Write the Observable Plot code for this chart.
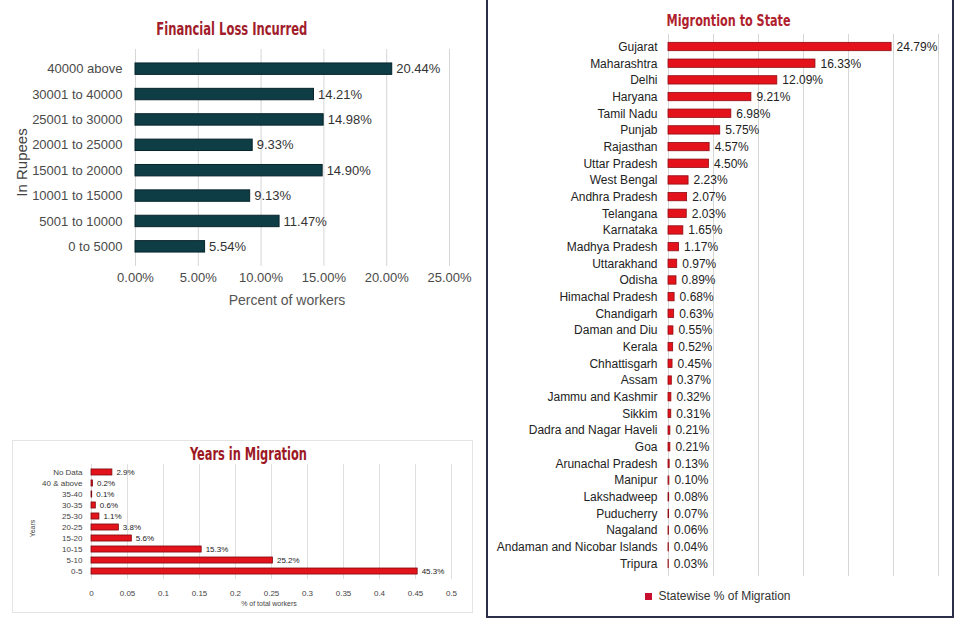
<!DOCTYPE html>
<html>
<head>
<meta charset="utf-8">
<script src="https://cdn.jsdelivr.net/npm/d3@7"></script>
<script src="https://cdn.jsdelivr.net/npm/@observablehq/plot@0.6"></script>
<style>
  html, body { margin: 0; padding: 0; background: #fff; }
  #root { position: relative; width: 960px; height: 630px; overflow: hidden; font-family: "Liberation Sans", Arial, sans-serif; }
  .title { position: absolute; font-family: "Liberation Sans Narrow", "DejaVu Sans Condensed", sans-serif; font-weight: bold; white-space: nowrap; transform-origin: center center; line-height: 1; }
  .lbl { position: absolute; white-space: nowrap; line-height: 1; font-family: "Liberation Sans", Arial, sans-serif; }
  #legend, #legend * { font-family: "Liberation Sans", Arial, sans-serif !important; font-size: 12px !important; color: #333 !important; }
</style>
</head>
<body>
<div id="root"></div>
<script>
// ---------- DATA ----------
const lossLabels = ["40000 above", "30001 to 40000", "25001 to 30000", "20001 to 25000", "15001 to 20000", "10001 to 15000", "5001 to 10000", "0 to 5000"];
const lossValues = [20.44, 14.21, 14.98, 9.33, 14.90, 9.13, 11.47, 5.54];
const lossTicks = [0, 5, 10, 15, 20, 25];

const yearLabels = ["No Data", "40 & above", "35-40", "30-35", "25-30", "20-25", "15-20", "10-15", "5-10", "0-5"];
const yearValues = [0.029, 0.002, 0.001, 0.006, 0.011, 0.038, 0.056, 0.153, 0.252, 0.453];
const yearTicks = [0, 0.05, 0.1, 0.15, 0.2, 0.25, 0.3, 0.35, 0.4, 0.45, 0.5];

const stateNames = ["Gujarat", "Maharashtra", "Delhi", "Haryana", "Tamil Nadu", "Punjab", "Rajasthan", "Uttar Pradesh", "West Bengal", "Andhra Pradesh", "Telangana", "Karnataka", "Madhya Pradesh", "Uttarakhand", "Odisha", "Himachal Pradesh", "Chandigarh", "Daman and Diu", "Kerala", "Chhattisgarh", "Assam", "Jammu and Kashmir", "Sikkim", "Dadra and Nagar Haveli", "Goa", "Arunachal Pradesh", "Manipur", "Lakshadweep", "Puducherry", "Nagaland", "Andaman and Nicobar Islands", "Tripura"];
const stateValues = [24.79, 16.33, 12.09, 9.21, 6.98, 5.75, 4.57, 4.50, 2.23, 2.07, 2.03, 1.65, 1.17, 0.97, 0.89, 0.68, 0.63, 0.55, 0.52, 0.45, 0.37, 0.32, 0.31, 0.21, 0.21, 0.13, 0.10, 0.08, 0.07, 0.06, 0.04, 0.03];
const stateTicks = [0, 5, 10, 15, 20, 25, 30];
const stateSeries = "Statewise % of Migration";

// ---------- LAYOUT HELPERS ----------
const root = document.getElementById("root");
function place(el, left, top) {
  el.style.position = "absolute";
  el.style.left = left + "px";
  el.style.top = top + "px";
  root.appendChild(el);
  return el;
}
function title(text, cx, cy, targetW, size, color) {
  const d = document.createElement("div");
  d.className = "title";
  d.textContent = text;
  d.style.fontSize = size + "px";
  d.style.color = color;
  root.appendChild(d);
  const r = d.getBoundingClientRect();
  d.style.left = (cx - r.width / 2) + "px";
  d.style.top = (cy - r.height / 2) + "px";
  d.style.transform = `scaleX(${targetW / r.width})`;
}
function label(text, cx, cy, size, color, rotate) {
  const d = document.createElement("div");
  d.className = "lbl";
  d.textContent = text;
  d.style.fontSize = size + "px";
  d.style.color = color;
  root.appendChild(d);
  const r = d.getBoundingClientRect();
  d.style.left = (cx - r.width / 2) + "px";
  d.style.top = (cy - r.height / 2) + "px";
  if (rotate) d.style.transform = "rotate(-90deg)";
}
function box(left, top, w, h, border) {
  const d = document.createElement("div");
  d.style.position = "absolute";
  d.style.left = left + "px";
  d.style.top = top + "px";
  d.style.width = w + "px";
  d.style.height = h + "px";
  d.style.boxSizing = "border-box";
  d.style.border = border;
  root.appendChild(d);
}

// ---------- CHART 1: Financial Loss ----------
const lossData = lossLabels.map((k, i) => ({k, v: lossValues[i]}));
const c1 = Plot.plot({
  width: 480, height: 320,
  marginLeft: 135, marginRight: 31, marginTop: 49, marginBottom: 54,
  style: {fontFamily: "Liberation Sans, Arial, sans-serif", fontSize: "13px", color: "#4a4a4a", background: "transparent", overflow: "visible"},
  x: {domain: [0, 25], ticks: lossTicks, tickFormat: d => d.toFixed(2) + "%", tickSize: 0, tickPadding: 6, label: null},
  y: {domain: lossLabels, padding: 0.55, round: false, tickSize: 0, tickPadding: 13, label: null},
  marks: [
    Plot.ruleX(lossTicks, {x: d => d, stroke: "#d6d6d6", strokeWidth: 1}),
    Plot.barX(lossData, {x: "v", y: "k", fill: "#0f3d46", stroke: "#06242a", strokeWidth: 1}),
    Plot.text(lossData, {x: "v", y: "k", text: d => d.v.toFixed(2) + "%", textAnchor: "start", dx: 4, fill: "#333", fontSize: 13})
  ]
});
place(c1, 0, 0);
title("Financial Loss Incurred", 232, 29, 151, 17, "#a11d2c");
label("In Rupees", 21, 162, 15, "#444", true);
label("Percent  of workers", 287, 300, 14, "#555", false);

// ---------- CHART 2: Years in Migration ----------
box(12, 440, 461, 173, "1px solid #e4e4e4");
const yearData = yearLabels.map((k, i) => ({k, v: yearValues[i]}));
const c2 = Plot.plot({
  width: 460, height: 172,
  marginLeft: 79, marginRight: 21, marginTop: 24, marginBottom: 33,
  style: {fontFamily: "Liberation Sans, Arial, sans-serif", fontSize: "8px", color: "#444", background: "transparent", overflow: "visible"},
  x: {domain: [0, 0.5], ticks: yearTicks, tickFormat: d3.format("~g"), tickSize: 0, tickPadding: 11, label: null},
  y: {domain: yearLabels, padding: 0.45, round: false, tickSize: 0, tickPadding: 9, label: null},
  marks: [
    Plot.ruleX(yearTicks, {x: d => d, stroke: "#dedede", strokeWidth: 1}),
    Plot.barX(yearData, {x: "v", y: "k", fill: "#e3131c", stroke: "#7d0a10", strokeWidth: 0.8}),
    Plot.text(yearData, {x: "v", y: "k", text: d => d3.format(".1%")(d.v), textAnchor: "start", dx: 4, fill: "#222", fontSize: 8})
  ]
});
place(c2, 12, 440);
title("Years in Migration", 248, 454, 117, 17, "#9c1824");
label("Years", 33, 528, 7, "#444", true);
label("% of total workers", 269, 603, 7, "#444", false);

// ---------- CHART 3: Migration to State ----------
box(486, -3, 468, 621, "2px solid #2c2f48");
const stateData = stateNames.map((k, i) => ({k, v: stateValues[i]}));
const c3 = Plot.plot({
  width: 464, height: 582,
  marginLeft: 180, marginRight: 14, marginTop: 34, marginBottom: 6,
  style: {fontFamily: "Liberation Sans, Arial, sans-serif", fontSize: "12px", color: "#222", background: "transparent", overflow: "visible"},
  x: {domain: [0, 30], axis: null},
  y: {domain: stateNames, padding: 0.5, round: false, tickSize: 0, tickPadding: 11, label: null},
  marks: [
    Plot.ruleX(stateTicks, {x: d => d, stroke: "#d6d6d6", strokeWidth: 1}),
    Plot.barX(stateData, {x: "v", y: "k", fill: "#e3121b", stroke: "#8f0c12", strokeWidth: 0.8}),
    Plot.text(stateData, {x: "v", y: "k", text: d => d.v.toFixed(2) + "%", textAnchor: "start", dx: 5, fill: "#222", fontSize: 12})
  ]
});
place(c3, 488, 0);
title("Migrontion to State", 729, 21, 124, 16, "#b01f2e");

const leg = Plot.legend({color: {type: "ordinal", domain: [stateSeries], range: ["#c8102e"]}, swatchSize: 7, swatchWidth: 7, swatchHeight: 7});
const legWrap = document.createElement("div");
legWrap.id = "legend";
legWrap.style.position = "absolute";
legWrap.style.whiteSpace = "nowrap";
legWrap.style.display = "inline-block";
legWrap.appendChild(leg);
root.appendChild(legWrap);
const lr = legWrap.getBoundingClientRect();
legWrap.style.left = (724 - lr.width / 2) + "px";
legWrap.style.top = (599 - lr.height / 2) + "px";
</script>
</body>
</html>
